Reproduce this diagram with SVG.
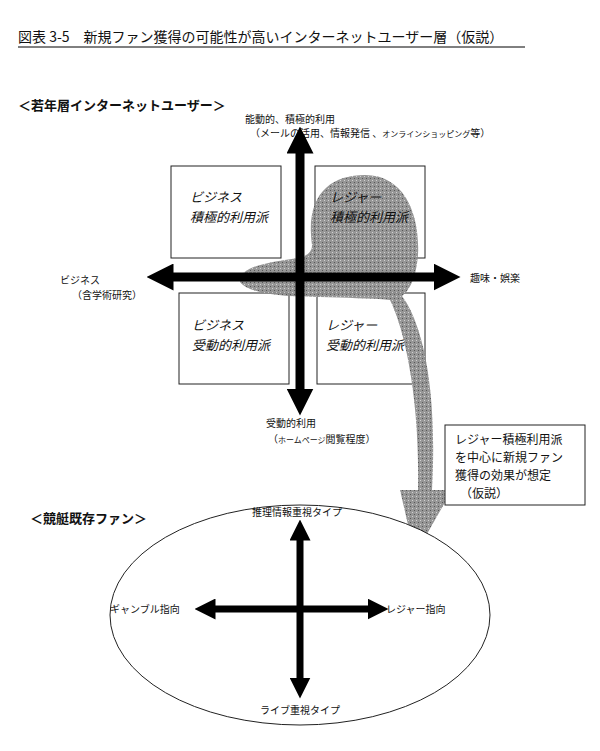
<svg xmlns="http://www.w3.org/2000/svg" width="600" height="751" viewBox="0 0 600 751">
<style>
text{font-family:"Noto Sans CJK JP","Noto Sans",sans-serif;fill:#111}
.b{fill:#fff;stroke:#222;stroke-width:1}
.q{font-size:13px;font-style:italic}
.s{font-size:10px}
</style>
<defs>
<marker id="ah" viewBox="0 0 10 10" refX="5" refY="5" markerWidth="3" markerHeight="3" orient="auto-start-reverse"><path d="M0,0L10,5L0,10z" fill="#000"/></marker>
<pattern id="g" width="4" height="4" patternUnits="userSpaceOnUse"><rect width="4" height="4" fill="#8a8a8a"/><rect width="1" height="1" fill="#ccc"/><rect x="2" y="2" width="1" height="1" fill="#444"/></pattern>
</defs>
<rect width="600" height="751" fill="#fff"/>
<text x="18" y="42" font-size="14">図表 3-5　新規ファン獲得の可能性が高いインターネットユーザー層（仮説）</text>
<line x1="18" y1="47" x2="525" y2="47" stroke="#000" stroke-width="1"/>
<text x="18" y="110" font-size="13" font-weight="bold">＜若年層インターネットユーザー＞</text>
<text x="245" y="123" class="s">能動的、積極的利用</text>
<text x="250" y="137" class="s">（メールの活用、情報発信 、<tspan font-size="8">オンラインショッピング</tspan>等）</text>
<g id="q1"><rect class="b" x="171" y="166" width="110" height="92"/><text class="q" x="190" y="202">ビジネス</text><text class="q" x="190" y="222">積極的利用派</text></g>
<g id="q2"><rect class="b" x="315" y="166" width="110" height="92"/></g>
<g id="q3"><rect class="b" x="179" y="293" width="110" height="91"/><text class="q" x="192" y="330">ビジネス</text><text class="q" x="192" y="350">受動的利用派</text></g>
<g id="q4"><rect class="b" x="317" y="293" width="108" height="91"/><text class="q" x="326" y="330">レジャー</text><text class="q" x="326" y="350">受動的利用派</text></g>
<g id="blob">
<path d="M312,245 C305,195 330,175 365,175 C405,175 420,215 418,255 C416,280 408,292 402,296 C420,320 438,380 432,490 L452,490 L415,555 L400,490 L418,490 C420,400 405,330 390,300 C370,298 345,298 320,297 C290,297 250,295 240,282 C238,268 265,262 300,258 C308,255 312,252 312,245 Z" fill="url(#g)" opacity="0.9"/>
</g>
<g id="q2t"><text class="q" x="330" y="202">レジャー</text><text class="q" x="330" y="222">積極的利用派</text></g>
<ellipse class="b" cx="300" cy="615" rx="190" ry="110"/>
<g id="connectors" stroke="#000" stroke-width="9" fill="none" marker-start="url(#ah)" marker-end="url(#ah)">
<line x1="300" y1="140" x2="300" y2="402"/>
<line x1="160" y1="277" x2="447" y2="277"/>
<line x1="300" y1="530" x2="300" y2="688" stroke-width="7"/>
<line x1="205" y1="609" x2="378" y2="609" stroke-width="7"/>
</g>
<text x="60" y="284" class="s">ビジネス</text>
<text x="72" y="299" class="s">（含学術研究）</text>
<text x="470" y="282" class="s">趣味・娯楽</text>
<text x="266" y="427" class="s">受動的利用</text>
<text x="268" y="443" class="s">（<tspan font-size="8">ホームページ</tspan>閲覧程度）</text>
<g id="note"><rect class="b" x="445" y="425" width="140" height="80"/>
<text x="455" y="444" font-size="12">レジャー積極利用派</text>
<text x="455" y="462" font-size="12">を中心に新規ファン</text>
<text x="455" y="480" font-size="12">獲得の効果が想定</text>
<text x="460" y="498" font-size="12">（仮説）</text></g>
<text x="30" y="523" font-size="13" font-weight="bold">＜競艇既存ファン＞</text>
<text x="252" y="516" class="s">推理情報重視タイプ</text>
<text x="110" y="613" class="s">ギャンブル指向</text>
<text x="386" y="613" class="s">レジャー指向</text>
<text x="260" y="714" class="s">ライブ重視タイプ</text>
</svg>
